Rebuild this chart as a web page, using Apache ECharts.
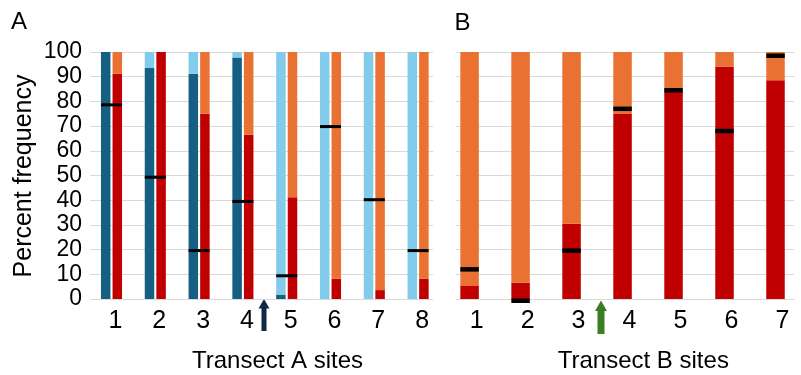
<!DOCTYPE html>
<html>
<head>
<meta charset="utf-8">
<script src="https://cdn.jsdelivr.net/npm/echarts@6/dist/echarts.min.js"></script>
<style>
html,body{margin:0;padding:0;background:#fff;}
#chart{width:801px;height:375px;}
</style>
</head>
<body>
<div id="chart"></div>
<script>
// ---- data ----
const sitesA = ['1', '2', '3', '4', '5', '6', '7', '8'];
const darkBlueA = [100, 93.5, 91.2, 97.8, 1.8, 0, 0, 0];
const lightBlueA = [0, 6.5, 8.8, 2.2, 98.2, 100, 100, 100];
const redA = [91.2, 100, 75, 66.5, 41.2, 8.2, 3.6, 8.2];
const orangeA = [8.8, 0, 25, 33.5, 58.8, 91.8, 96.4, 91.8];
const markerA = [78.6, 49.3, 19.6, 39.5, 9.4, 69.8, 40.2, 19.6];

const sitesB = ['1', '2', '3', '4', '5', '6', '7'];
const redB = [5.3, 6.6, 30.5, 74.9, 84, 94, 88.6];
const orangeB = [94.7, 93.4, 69.5, 25.1, 16, 6, 11.4];
const markerB = [12, -0.7, 19.6, 77, 84.5, 68, 98.5];

const yMin = 0, yMax = 100, yStep = 10;

// ---- styles ----
const C = {
  darkBlue: '#156082', lightBlue: '#83CBEB', red: '#C00000', orange: '#E97132',
  grid: '#D9D9D9', text: '#000000', navy: '#0E2841', green: '#3B7D23'
};
const FONT = '"Liberation Sans", Arial, sans-serif';
const TOP = 52, BOTTOM = 76;

const chart = echarts.init(document.getElementById('chart'), null, {renderer: 'canvas'});

function yAx(grid, showLabels, showSplit) {
  return {
    type: 'value', gridIndex: grid, min: yMin, max: yMax, interval: yStep,
    axisLine: {show: false}, axisTick: {show: false},
    axisLabel: {show: showLabels, color: C.text, fontSize: 23, fontFamily: FONT, margin: 8},
    splitLine: {show: showSplit, lineStyle: {color: C.grid, width: 1}}
  };
}
function xCat(grid, data, show, pad) {
  return {
    type: 'category', gridIndex: grid, data: data, show: show,
    axisLine: {show: false}, axisTick: {show: false},
    axisLabel: {color: C.text, fontSize: 25, fontFamily: FONT, margin: 10, padding: [0, 0, 0, pad]}
  };
}

const option = {
  animation: false,
  grid: [
    {left: 90, right: 801 - 433, top: TOP, bottom: BOTTOM},        // A gridlines
    {left: 89.6, width: 350.4, top: TOP, bottom: BOTTOM},          // A bars
    {left: 456, right: 7, top: TOP, bottom: BOTTOM},               // B gridlines
    {left: 444.1, width: 362.6, top: TOP, bottom: BOTTOM}          // B bars
  ],
  xAxis: [
    xCat(0, [], false, 0),
    xCat(1, sitesA, true, 8),
    xCat(2, [], false, 0),
    xCat(3, sitesB, true, 14)
  ],
  yAxis: [
    yAx(0, true, true),
    yAx(1, false, false),
    yAx(2, false, true),
    yAx(3, false, false)
  ],
  series: [
    {type: 'bar', xAxisIndex: 1, yAxisIndex: 1, stack: 'blue', data: darkBlueA,
      barWidth: 9.5, barGap: '22%', itemStyle: {color: C.darkBlue}},
    {type: 'bar', xAxisIndex: 1, yAxisIndex: 1, stack: 'blue', data: lightBlueA,
      barWidth: 9.5, barGap: '22%', itemStyle: {color: C.lightBlue}},
    {type: 'bar', xAxisIndex: 1, yAxisIndex: 1, stack: 'red', data: redA,
      barWidth: 9.5, barGap: '22%', itemStyle: {color: C.red}},
    {type: 'bar', xAxisIndex: 1, yAxisIndex: 1, stack: 'red', data: orangeA,
      barWidth: 9.5, barGap: '22%', itemStyle: {color: C.orange}},
    {type: 'scatter', xAxisIndex: 1, yAxisIndex: 1, data: markerA, clip: false,
      symbol: 'rect', symbolSize: [21, 3], itemStyle: {color: '#000', opacity: 1}, z: 5},
    {type: 'bar', xAxisIndex: 3, yAxisIndex: 3, stack: 'b', data: redB,
      barWidth: 18.5, itemStyle: {color: C.red}},
    {type: 'bar', xAxisIndex: 3, yAxisIndex: 3, stack: 'b', data: orangeB,
      barWidth: 18.5, itemStyle: {color: C.orange}},
    {type: 'scatter', xAxisIndex: 3, yAxisIndex: 3, data: markerB, clip: false,
      symbol: 'rect', symbolSize: [18.5, 4.5], itemStyle: {color: '#000', opacity: 1}, z: 5}
  ],
  graphic: [
    {type: 'text', x: 11, y: 22, style: {text: 'A', font: '24px ' + FONT, fill: C.text,
      align: 'left', verticalAlign: 'middle', textAlign: 'left', textVerticalAlign: 'middle'}},
    {type: 'text', x: 454.5, y: 23.5, style: {text: 'B', font: '24px ' + FONT, fill: C.text,
      align: 'left', verticalAlign: 'middle', textAlign: 'left', textVerticalAlign: 'middle'}},
    {type: 'text', x: 277.5, y: 361.5, style: {text: 'Transect A sites', font: '24px ' + FONT, fill: C.text,
      align: 'center', verticalAlign: 'middle', textAlign: 'center', textVerticalAlign: 'middle'}},
    {type: 'text', x: 643.3, y: 361.5, style: {text: 'Transect B sites', font: '24px ' + FONT, fill: C.text,
      align: 'center', verticalAlign: 'middle', textAlign: 'center', textVerticalAlign: 'middle'}},
    {type: 'text', x: 24, y: 176, rotation: Math.PI / 2, style: {text: 'Percent frequency', font: '25px ' + FONT, fill: C.text,
      align: 'center', verticalAlign: 'middle', textAlign: 'center', textVerticalAlign: 'middle'}},
    {type: 'polygon', shape: {points: [[264, 299], [258.5, 308.5], [261.5, 308.5], [261.5, 331], [266.5, 331], [266.5, 308.5], [269.5, 308.5]]},
      style: {fill: C.navy}},
    {type: 'polygon', shape: {points: [[601, 300.5], [595, 311], [597.5, 311], [597.5, 334], [604.5, 334], [604.5, 311], [607, 311]]},
      style: {fill: C.green}}
  ]
};
chart.setOption(option);
</script>
</body>
</html>
